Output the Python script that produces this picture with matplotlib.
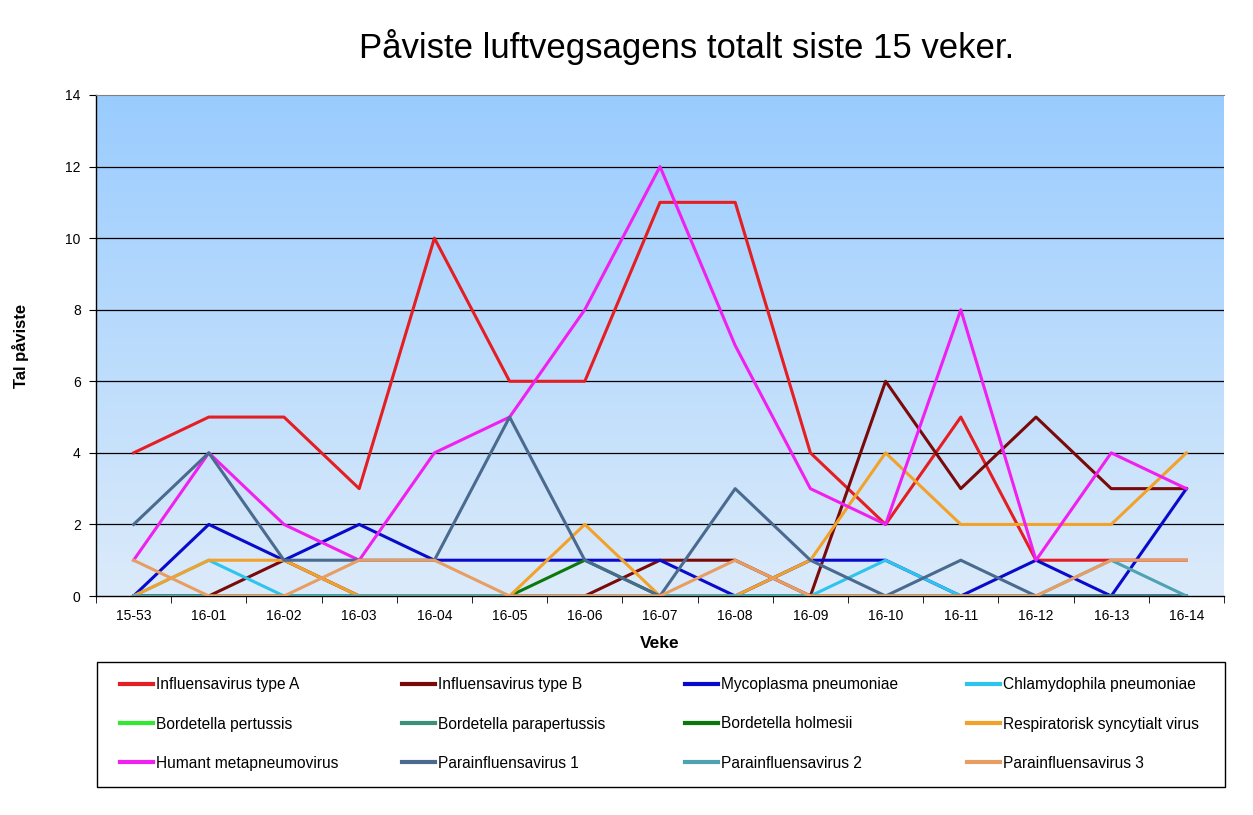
import numpy as np
import matplotlib.pyplot as plt
from matplotlib.colors import LinearSegmentedColormap
from matplotlib.patches import Rectangle

plt.rcParams['font.family'] = ['Liberation Sans', 'DejaVu Sans']

weeks = ["15-53", "16-01", "16-02", "16-03", "16-04", "16-05", "16-06", "16-07",
         "16-08", "16-09", "16-10", "16-11", "16-12", "16-13", "16-14"]

influensa_a = [4, 5, 5, 3, 10, 6, 6, 11, 11, 4, 2, 5, 1, 1, 1]
influensa_b = [0, 0, 1, 0, 0, 0, 0, 1, 1, 0, 6, 3, 5, 3, 3]
mycoplasma = [0, 2, 1, 2, 1, 1, 1, 1, 0, 1, 1, 0, 1, 0, 3]
chlamydophila = [0, 1, 0, 0, 0, 0, 0, 0, 0, 0, 1, 0, 0, 0, 0]
b_pertussis = [0, 0, 0, 0, 0, 0, 0, 0, 0, 0, 0, 0, 0, 0, 0]
b_parapertussis = [0, 0, 0, 0, 0, 0, 0, 0, 0, 0, 0, 0, 0, 0, 0]
b_holmesii = [0, 0, 0, 0, 0, 0, 1, 0, 0, 0, 0, 0, 0, 0, 0]
rsv = [0, 1, 1, 0, 0, 0, 2, 0, 0, 1, 4, 2, 2, 2, 4]
metapneumo = [1, 4, 2, 1, 4, 5, 8, 12, 7, 3, 2, 8, 1, 4, 3]
para1 = [2, 4, 1, 1, 1, 5, 1, 0, 3, 1, 0, 1, 0, 0, 0]
para2 = [0, 0, 0, 0, 0, 0, 0, 0, 0, 0, 0, 0, 0, 1, 0]
para3 = [1, 0, 0, 1, 1, 0, 0, 0, 1, 0, 0, 0, 0, 1, 1]

series = [
    ("Influensavirus type A", influensa_a, "#E41E22"),
    ("Influensavirus type B", influensa_b, "#7A0A0A"),
    ("Mycoplasma pneumoniae", mycoplasma, "#0A0ACC"),
    ("Chlamydophila pneumoniae", chlamydophila, "#2EC4EE"),
    ("Bordetella pertussis", b_pertussis, "#33E833"),
    ("Bordetella parapertussis", b_parapertussis, "#3C9078"),
    ("Bordetella holmesii", b_holmesii, "#0A780A"),
    ("Respiratorisk syncytialt virus", rsv, "#F2A22A"),
    ("Humant metapneumovirus", metapneumo, "#F020F0"),
    ("Parainfluensavirus 1", para1, "#4A6A90"),
    ("Parainfluensavirus 2", para2, "#4EA2B2"),
    ("Parainfluensavirus 3", para3, "#E89E62"),
]

W, H = 1253, 815
fig = plt.figure(figsize=(W / 100, H / 100), dpi=100)
ax = fig.add_axes([96 / W, 1 - 596 / H, (1224 - 96) / W, (596 - 95) / H])

x = np.arange(len(weeks))

# gradient background
cmap = LinearSegmentedColormap.from_list("bg", ["#DCEBFA", "#99CCFF"])
grad = np.linspace(0, 1, 256).reshape(-1, 1)
ax.imshow(grad, cmap=cmap, origin="lower", aspect="auto",
          extent=[-0.5, len(weeks) - 0.5, 0, 14], zorder=0)

for yv in range(2, 14, 2):
    ax.axhline(yv, color="black", lw=0.9, zorder=1)

handles = []
for name, vals, col in series:
    h, = ax.plot(x, vals, color=col, lw=2.2, label=name, zorder=3)
    handles.append(h)

ax.set_xlim(-0.5, len(weeks) - 0.5)
ax.set_ylim(0, 14)
ax.set_yticks(range(0, 15, 2))
ax.set_xticks(x)
ax.set_xticklabels(weeks, fontsize=10)
ax.set_xticks(np.arange(-0.5, len(weeks), 1), minor=True)
ax.tick_params(axis="x", which="major", length=0, pad=9)
ax.tick_params(axis="x", which="minor", length=5, direction="out", color="black")
ax.tick_params(axis="y", labelsize=10, length=5, direction="out", pad=6)
ax.spines["top"].set_color("#808080")
ax.spines["top"].set_linewidth(0.8)
ax.spines["right"].set_visible(False)
ax.spines["left"].set_linewidth(1.0)
ax.spines["bottom"].set_linewidth(1.0)

ax.set_xlabel("Veke", fontsize=12.5, fontweight="bold", labelpad=10)
ax.set_ylabel("Tal påviste", fontsize=12, fontweight="bold", labelpad=26)

fig.text(687 / W, 1 - 47 / H, "Påviste luftvegsagens totalt siste 15 veker.",
         ha="center", va="center", fontsize=25)

# legend box with four columns
box = Rectangle((97 / W, 1 - 787 / H), (1225 - 97) / W, (787 - 662) / H,
                transform=fig.transFigure, fill=False, edgecolor="black", lw=1.0)
fig.add_artist(box)
col_x = [120, 402, 685, 967]
for c in range(4):
    idx = [c, c + 4, c + 8]
    leg = fig.legend([handles[i] for i in idx], [series[i][0] for i in idx],
                     ncol=1, loc="center left",
                     bbox_to_anchor=(col_x[c] / W, 1 - 724 / H),
                     fontsize=11.2, handlelength=2.1, handletextpad=0.2,
                     labelspacing=1.55, borderpad=0, borderaxespad=0,
                     frameon=False)
    for ln in leg.get_lines():
        ln.set_linewidth(3)

fig.savefig("out.png", dpi=100)
